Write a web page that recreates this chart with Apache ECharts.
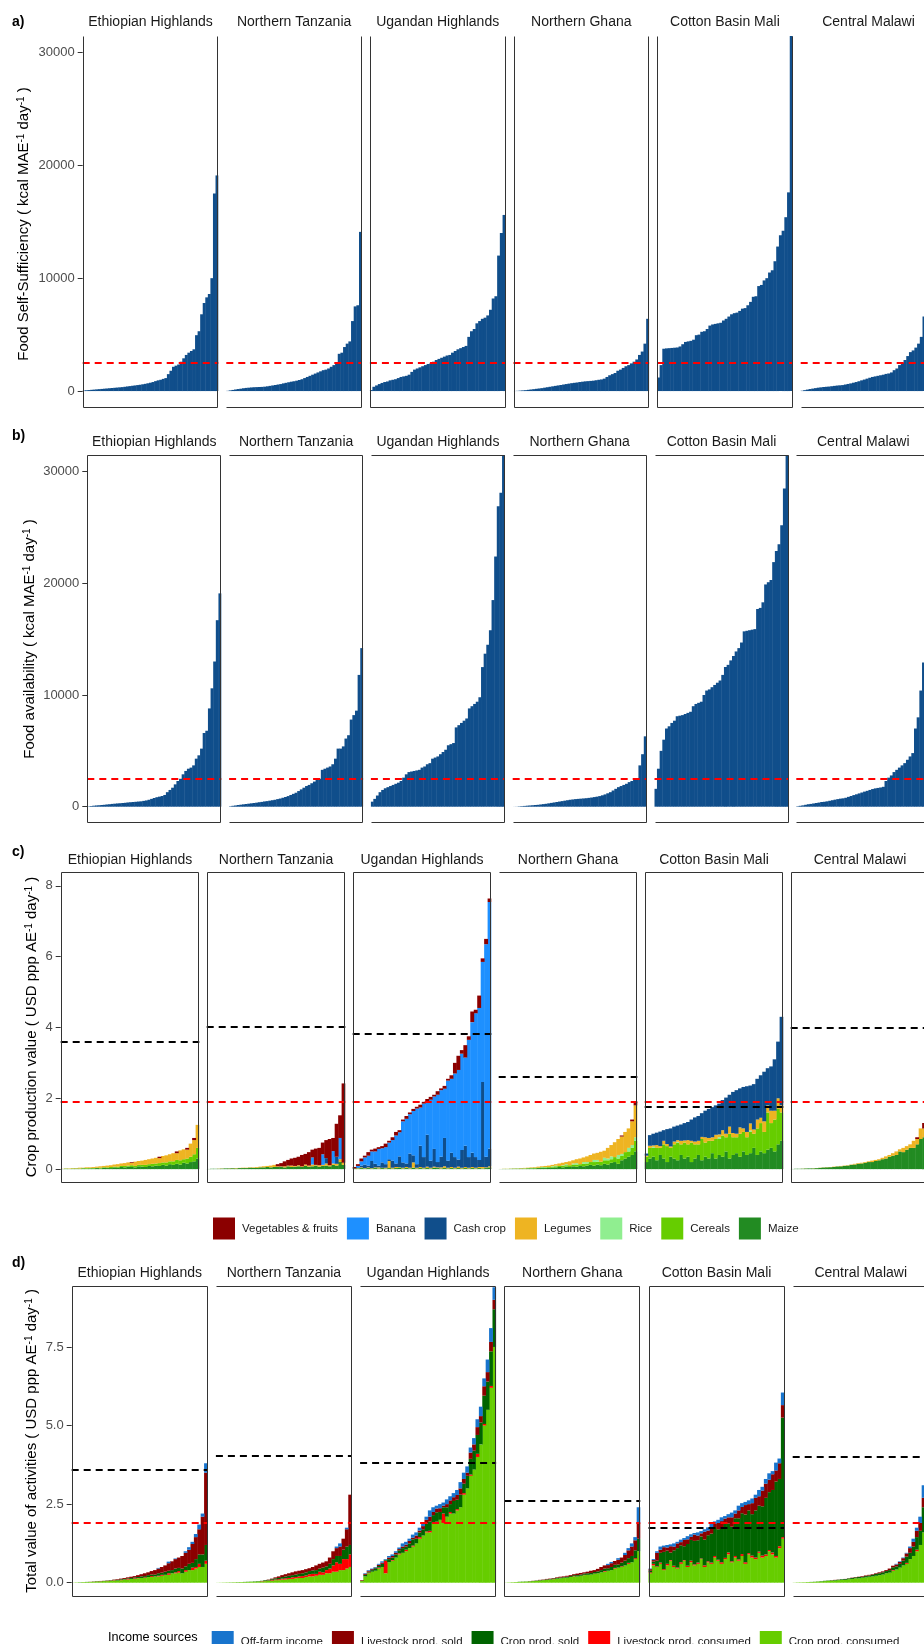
<!DOCTYPE html>
<html>
<head>
<meta charset="utf-8">
<script src="https://cdn.jsdelivr.net/npm/echarts@6/dist/echarts.min.js"></script>
<style>
  html, body { margin: 0; padding: 0; background: #fff; }
  #chart { width: 924px; height: 1644px; }
</style>
</head>
<body>
<div id="chart"></div>
<script>
// ---------------------------------------------------------------------------
// Farm-household indicators across six sites; households sorted per site.
// ---------------------------------------------------------------------------
const regions = ['Ethiopian Highlands', 'Northern Tanzania', 'Ugandan Highlands',
                 'Northern Ghana', 'Cotton Basin Mali', 'Central Malawi'];

// reference lines
const kcalRequirement = 2500;                         // kcal MAE-1 day-1
const povertyLine = 1.9;                              // USD ppp AE-1 day-1
const livingIncome = [3.6, 4.03, 3.82, 2.62, 1.75, 4.0]; // per site

// a) food self-sufficiency (kcal MAE-1 day-1)
const selfSuffEth = [50,70,90,110,130,150,170,190,210,230,250,270,290,310,330,350,380,410,440,
  470,500,530,560,600,640,690,740,800,880,950,1000,1080,1150,1500,1800,2150,
  2250,2350,2600,2900,3200,3400,3550,3700,4950,5300,6800,7800,8300,8600,10000,17500,19100];
const selfSuffTan = [20,60,100,140,180,210,250,280,300,320,340,350,360,370,390,
  420,460,500,540,580,620,680,730,780,830,870,920,980,1050,1150,1250,1350,
  1450,1550,1650,1750,1850,1900,2000,2150,2300,2450,3300,3400,3900,4200,4400,6200,7500,7600,14100];
const selfSuffUga = [90,380,500,620,720,800,850,950,1000,1050,1150,1250,1300,1350,
  1450,1700,1900,2000,2100,2200,2300,2400,2450,2600,2750,2850,2950,3050,3150,3200,
  3400,3550,3700,3800,3900,4000,4800,5300,5500,6000,6200,6400,6500,6700,7200,8200,8400,12000,14000,15600];
const selfSuffGha = [10,20,40,60,80,110,140,170,200,230,260,300,340,380,420,
  460,500,540,580,620,660,700,730,760,800,830,860,880,900,920,
  960,1000,1030,1100,1250,1400,1500,1600,1800,1900,2050,2200,2300,2450,2600,2800,3200,3500,4200,6400];
const selfSuffCot = [1200,2300,3750,3780,3800,3820,3840,3860,3950,4150,4350,4400,4450,4550,
  4950,5000,5250,5300,5500,5800,5900,5950,6000,6050,6250,6400,6600,6800,6900,6950,
  7100,7300,7350,7600,7900,8350,8400,9300,9400,9800,10000,10500,10700,11500,
  12800,13800,14200,15400,17600,31500];
const selfSuffMal = [30,80,130,180,220,260,300,330,360,380,400,430,460,490,510,530,
  580,630,680,740,800,870,950,1020,1100,1180,1250,1300,1350,1400,1450,1520,
  1560,1650,1850,2000,2300,2500,2750,3100,3450,3600,3850,4200,4800,6600,7000,8000,9500,12000];
const selfSufficiency = [selfSuffEth, selfSuffTan, selfSuffUga, selfSuffGha, selfSuffCot, selfSuffMal];

// b) food availability (kcal MAE-1 day-1)
const availEth = [30,60,90,110,130,150,170,200,220,250,270,290,310,330,350,380,400,420,440,460,
  480,520,560,620,700,780,850,900,960,1050,1300,1500,1700,2000,2300,2500,2900,3200,3400,
  3500,3700,4300,4600,5200,6600,6800,8800,10600,13000,16700,19100];
const availTan = [40,80,110,150,180,210,240,270,300,330,360,400,430,470,500,540,580,620,680,730,
  800,870,950,1050,1150,1250,1400,1550,1700,1850,1950,2100,2250,2400,2500,3300,3400,3500,
  3600,3800,4300,5200,5200,5400,6100,6400,7800,8200,8600,11800,14200];
const availUga = [450,700,1000,1300,1500,1650,1750,1850,1950,2050,2150,2300,2600,2900,3100,
  3150,3200,3250,3300,3500,3600,3800,3900,4300,4400,4500,4700,4900,5100,5500,5600,5700,
  7100,7300,7500,7700,7900,8800,9000,9200,9400,9800,12500,13700,14500,15800,18500,22400,26900,28100,31500];
const availGha = [5,10,30,50,70,90,110,130,150,170,200,230,260,300,340,380,420,460,500,540,580,620,
  650,680,700,720,740,760,790,820,860,900,950,1020,1100,1200,1300,1450,1600,1750,
  1850,1950,2050,2200,2300,2400,2500,3700,4700,6300];
const availCot = [1600,3400,5000,6000,7000,7200,7500,7700,8100,8150,8200,8300,8400,8500,
  9000,9200,9300,9400,10000,10400,10500,10700,10900,11100,11300,11800,12500,12700,13100,
  13500,13900,14200,14700,15700,15750,15800,15850,15900,17700,17800,18300,19900,20100,20300,
  21900,22900,23500,25200,28500,31500];
const availMal = [40,80,120,170,220,250,290,330,370,420,440,480,530,580,630,680,720,750,800,880,
  960,1040,1110,1190,1270,1350,1420,1500,1580,1640,1680,1720,1780,2300,2600,2800,3100,
  3300,3500,3700,3900,4200,4500,4800,7000,8000,10400,12900,14000,15000];
const availability = [availEth, availTan, availUga, availGha, availCot, availMal];

// c) crop production value by crop group (USD ppp AE-1 day-1)
const cropEth = {
  maize:   [0.005,0.01,0.005,0.01,0.015,0.01,0.02,0.01,0.02,0.02, 0.03,0.02,0.04,0.03,0.03,0.05,0.04,0.06,0.05,0.07,
            0.06,0.05,0.08,0.07,0.06,0.09,0.08,0.1,0.09,0.12, 0.1,0.14,0.12,0.15,0.13,0.18,0.16,0.2,0.22,0.3],
  cereals: [0,0.005,0.005,0.01,0.005,0.01,0.01,0.02,0.01,0.015, 0.01,0.02,0.015,0.02,0.03,0.02,0.03,0.03,0.04,0.03,
            0.05,0.04,0.04,0.05,0.06,0.05,0.07,0.06,0.08,0.07, 0.09,0.08,0.1,0.11,0.12,0.1,0.14,0.15,0.2,0.3],
  legumes: [0.005,0.005,0.01,0.01,0.01,0.02,0.01,0.02,0.02,0.025, 0.03,0.04,0.035,0.05,0.05,0.06,0.07,0.07,0.08,0.09,
            0.07,0.12,0.11,0.12,0.14,0.14,0.15,0.16,0.14,0.18, 0.2,0.2,0.23,0.19,0.28,0.28,0.25,0.37,0.4,0.65],
  veg:     [0,0,0,0,0,0,0,0,0,0, 0,0,0,0,0,0,0,0,0,0,
            0.02,0,0,0,0,0,0,0,0.04,0, 0,0,0,0.05,0,0,0.05,0,0.06,0]
};
const cropTan = {
  maize:   [0.005,0.01,0.01,0.01,0.015,0.02,0.02,0.025,0.02,0.03, 0.03,0.03,0.04,0.035,0.04,0.05,0.05,0.06,0.05,0.06,
            0.06,0.07,0.05,0.08,0.06,0.07,0.08,0.06,0.09,0.07, 0.08,0.1,0.07,0.09,0.1,0.08,0.12,0.1,0.2,0.12],
  legumes: [0,0,0,0.005,0.005,0,0.005,0.005,0.01,0.005, 0.01,0.01,0.01,0.015,0.02,0.02,0.03,0.03,0.05,0.06,
            0.02,0.01,0.03,0.02,0.04,0.02,0.03,0.02,0.04,0.03, 0.05,0.02,0.04,0.03,0.06,0.03,0.04,0.05,0.08,0.06],
  cash:    [0,0,0,0,0,0,0,0,0,0, 0,0,0,0,0,0,0,0,0,0,
            0,0,0,0,0,0,0,0,0,0, 0,0,0,0,0.15,0,0,0.2,0,0],
  banana:  [0,0,0,0,0,0,0,0,0,0, 0,0,0,0,0,0,0,0,0,0,
            0,0,0,0,0,0,0,0,0,0, 0.2,0,0,0.3,0,0,0.35,0,0.6,0],
  veg:     [0,0,0,0,0,0,0,0,0,0, 0,0,0,0,0,0,0,0,0,0,
            0.06,0.09,0.14,0.16,0.2,0.23,0.24,0.32,0.3,0.38, 0.22,0.46,0.49,0.33,0.51,0.74,0.37,0.93,0.64,2.24]
};
const cropUga = {
  maize:   [0.02,0.02,0.03,0.02,0.03,0.02,0.03,0.02,0.03,0.02, 0.03,0.02,0.03,0.05,0.02,0.03,0.02,0.04,0.02,0.03,
            0.02,0.03,0.02,0.04,0.03,0.02,0.03,0.02,0.03,0.02, 0.03,0.02,0.03,0.02,0.03,0.02,0.03,0.02,0.03,0.05],
  legumes: [0,0.01,0.02,0.01,0.02,0.01,0.02,0.03,0.01,0.02, 0.2,0.02,0.03,0.01,0.02,0.03,0.02,0.15,0.02,0.03,
            0.02,0.04,0.02,0.03,0.02,0.03,0.05,0.02,0.03,0.02, 0.04,0.02,0.03,0.02,0.03,0.02,0.03,0.04,0.02,0.03],
  cash:    [0,0,0.05,0.1,0.05,0.2,0.1,0.05,0.15,0.1, 0.05,0.2,0.1,0.3,0.15,0.1,0.4,0.2,0.1,0.6,
            0.3,0.9,0.2,0.5,0.15,0.3,0.8,0.2,0.4,0.3, 0.2,0.5,0.6,0.3,0.4,0.3,0.2,2.4,0.3,0.5],
  banana:  [0,0.06,0.12,0.2,0.28,0.27,0.35,0.47,0.4,0.48, 0.47,0.58,0.79,0.68,1.16,1.26,1.11,1.25,1.57,1.08,
            1.51,0.95,1.72,1.48,1.9,1.88,1.39,2.26,2.09,2.36, 2.53,2.72,2.49,3.31,3.69,4.06,4.29,3.39,6.0,6.96],
  veg:     [0.04,0.05,0.08,0.05,0.1,0.05,0.08,0.05,0.06,0.1, 0.05,0.08,0.1,0.06,0.05,0.08,0.05,0.06,0.05,0.08,
            0.05,0.06,0.08,0.05,0.1,0.05,0.08,0.05,0.1,0.3, 0.4,0.1,0.35,0.1,0.3,0.1,0.35,0.1,0.15,0.1]
};
const cropGha = {
  maize:   [0.003,0.005,0.004,0.008,0.01,0.01,0.015,0.01,0.02,0.02, 0.02,0.03,0.03,0.03,0.04,0.04,0.05,0.06,0.05,0.07,
            0.06,0.08,0.07,0.09,0.08,0.1,0.12,0.1,0.13,0.11, 0.15,0.13,0.18,0.2,0.15,0.25,0.3,0.35,0.4,0.5],
  cereals: [0,0.002,0.003,0.003,0.005,0.005,0.005,0.01,0.01,0.01, 0.015,0.01,0.02,0.02,0.02,0.03,0.03,0.03,0.04,0.04,
            0.05,0.05,0.06,0.05,0.07,0.06,0.08,0.1,0.08,0.1, 0.1,0.12,0.1,0.14,0.15,0.12,0.18,0.15,0.2,0.3],
  rice:    [0,0,0,0,0,0.005,0,0.005,0,0.005, 0.01,0,0.01,0.01,0,0.015,0.02,0,0.02,0.03,
            0,0.03,0.04,0,0.05,0.04,0,0.06,0.05,0, 0.07,0.05,0.08,0,0.1,0.06,0,0.1,0.08,0.1],
  legumes: [0.002,0.003,0.003,0.004,0.005,0.005,0.01,0.01,0.01,0.015, 0.015,0.03,0.02,0.03,0.04,0.035,0.04,0.07,0.07,0.06,
            0.11,0.09,0.11,0.16,0.13,0.16,0.2,0.18,0.2,0.28, 0.2,0.3,0.32,0.42,0.45,0.49,0.57,0.55,0.67,0.9],
  veg:     [0,0,0,0,0,0,0,0,0,0, 0,0,0,0,0,0,0,0,0,0,
            0,0,0,0,0,0,0,0,0,0, 0,0,0,0,0,0.03,0,0,0.05,0.1]
};
const cropCot = {
  maize:   [0.2,0.3,0.35,0.25,0.4,0.3,0.2,0.35,0.3,0.25, 0.4,0.3,0.35,0.2,0.3,0.4,0.25,0.35,0.3,0.45,
            0.3,0.4,0.35,0.5,0.3,0.4,0.45,0.35,0.5,0.4, 0.45,0.6,0.4,0.5,0.45,0.55,0.6,0.5,0.7,0.8],
  cereals: [0.15,0.3,0.25,0.35,0.2,0.4,0.45,0.25,0.4,0.5, 0.3,0.45,0.35,0.55,0.4,0.3,0.6,0.4,0.5,0.35,
            0.55,0.45,0.6,0.4,0.7,0.5,0.45,0.65,0.55,0.5, 0.6,0.4,0.75,0.8,0.6,1.05,0.7,0.9,1.0,0.8],
  rice:    [0,0,0.03,0,0,0,0,0,0,0.02, 0,0,0,0,0,0,0,0,0,0,
            0,0.05,0,0,0,0,0,0,0,0, 0.04,0,0,0,0,0,0,0,0,0],
  legumes: [0.03,0.06,0.04,0.08,0.05,0.1,0.06,0.04,0.08,0.05, 0.1,0.06,0.12,0.05,0.08,0.1,0.06,0.15,0.08,0.1,
            0.12,0.08,0.15,0.1,0.2,0.12,0.1,0.18,0.1,0.15, 0.2,0.12,0.25,0.15,0.3,0.2,0.35,0.25,0.3,0.2],
  cash:    [0.06,0.3,0.33,0.35,0.41,0.3,0.42,0.51,0.42,0.41, 0.46,0.49,0.51,0.6,0.68,0.7,0.67,0.75,0.82,0.85,
            0.83,0.87,0.85,1.02,0.9,1.16,1.23,1.1,1.17,1.29, 1.07,1.28,1.15,1.2,1.4,1.05,1.25,1.45,1.6,2.5]
};
const cropMal = {
  maize:   [0.005,0.01,0.01,0.012,0.018,0.02,0.02,0.028,0.035,0.045, 0.05,0.055,0.06,0.075,0.08,0.09,0.1,0.12,0.13,0.15,
            0.16,0.18,0.2,0.2,0.23,0.25,0.28,0.3,0.35,0.38, 0.4,0.5,0.48,0.55,0.6,0.6,0.7,0.85,0.9,1.1],
  legumes: [0,0,0,0.003,0.002,0,0.005,0.002,0.005,0.005, 0.005,0.005,0.01,0.005,0.01,0.01,0.01,0.01,0.02,0.02,
            0.02,0.02,0.02,0.04,0.03,0.03,0.04,0.06,0.05,0.07, 0.1,0.06,0.12,0.1,0.1,0.2,0.15,0.3,0.25,0.4],
  veg:     [0,0,0,0,0,0,0,0,0,0, 0,0,0,0,0,0,0,0,0,0,
            0,0,0,0,0,0,0,0,0,0, 0,0,0,0,0,0,0.05,0,0.15,0.1]
};
const cropValue = [cropEth, cropTan, cropUga, cropGha, cropCot, cropMal];

// d) total value of activities by income source (USD ppp AE-1 day-1)
const incEth = {
  cropCons: [0.005,0.01,0.01,0.02,0.02,0.025,0.03,0.04,0.04,0.05, 0.05,0.06,0.07,0.07,0.08,0.1,0.1,0.12,0.12,0.14,
             0.15,0.15,0.18,0.18,0.2,0.2,0.22,0.25,0.25,0.3, 0.3,0.32,0.3,0.35,0.4,0.4,0.45,0.5,0.5,0.6],
  livCons:  [0,0,0,0,0,0,0,0,0.005,0, 0.005,0,0.01,0,0.01,0,0.02,0,0.02,0.01,
             0,0.02,0,0.03,0,0.02,0.03,0,0.05,0, 0.03,0.05,0,0.05,0,0.08,0.05,0.1,0,0.1],
  cropSold: [0,0,0.005,0,0.005,0,0.005,0.005,0.005,0.005, 0.01,0.01,0.01,0.02,0.02,0.02,0.02,0.03,0.03,0.03,
             0.05,0.04,0.06,0.05,0.06,0.08,0.07,0.1,0.08,0.1, 0.12,0.1,0.15,0.12,0.2,0.15,0.25,0.3,0.4,0.5],
  livSold:  [0,0,0,0,0,0.005,0.005,0.005,0.005,0.005, 0.005,0.01,0.01,0.02,0.02,0.03,0.03,0.04,0.04,0.06,
             0.07,0.09,0.09,0.11,0.14,0.15,0.18,0.2,0.24,0.28, 0.3,0.33,0.4,0.43,0.45,0.6,0.7,0.8,1.2,2.3],
  offFarm:  [0,0,0,0,0,0,0,0,0,0, 0,0,0,0,0,0,0,0,0,0,
             0,0,0,0,0,0.02,0,0,0.05,0, 0.02,0,0,0.05,0.08,0.07,0.1,0.15,0.1,0.3]
};
const incTan = {
  cropCons: [0.003,0.005,0.008,0.01,0.01,0.015,0.015,0.02,0.02,0.025, 0.03,0.03,0.04,0.04,0.05,0.06,0.06,0.08,0.08,0.1,
             0.1,0.12,0.12,0.14,0.15,0.15,0.18,0.2,0.2,0.22, 0.25,0.25,0.3,0.3,0.35,0.35,0.4,0.4,0.45,0.5],
  livCons:  [0,0,0,0,0,0,0,0,0,0, 0,0,0,0.01,0.01,0.01,0.02,0.02,0.03,0.03,
             0.04,0.03,0.05,0.04,0.05,0.06,0.05,0.07,0.08,0.06, 0.1,0.08,0.1,0.15,0.2,0.3,0.2,0.35,0.3,0.4],
  cropSold: [0,0,0,0,0.002,0,0.003,0,0.005,0.005, 0.005,0.01,0.01,0.01,0.02,0.02,0.03,0.04,0.04,0.05,
             0.06,0.07,0.07,0.08,0.08,0.09,0.1,0.1,0.11,0.12, 0.1,0.15,0.12,0.15,0.2,0.2,0.25,0.3,0.4,0.3],
  livSold:  [0,0,0,0,0,0,0,0,0,0, 0,0,0,0,0,0.01,0.02,0.03,0.05,0.06,
             0.07,0.08,0.09,0.1,0.1,0.1,0.1,0.09,0.11,0.15, 0.15,0.16,0.16,0.2,0.25,0.25,0.3,0.35,0.55,1.6],
  offFarm:  [0,0,0,0,0,0,0,0,0,0, 0,0,0,0,0,0,0,0,0,0,
             0,0,0,0,0,0,0,0,0,0, 0,0,0,0,0,0.05,0.1,0,0.05,0]
};
const incUga = {
  cropCons: [0.05,0.2,0.3,0.35,0.38,0.45,0.5,0.3,0.65,0.7, 0.8,0.9,0.95,1.0,1.1,1.15,1.25,1.4,1.5,1.6,
             1.6,1.9,1.9,2.0,1.9,2.1,2.2,2.2,2.3,2.4, 2.8,3.0,3.4,3.6,4.0,4.4,5.0,5.5,6.2,7.5],
  livCons:  [0,0,0.02,0,0,0.03,0,0.4,0,0.02, 0,0.03,0,0.05,0,0.03,0,0.05,0,0.03,
             0.05,0,0.04,0,0.3,0,0.05,0,0.04,0, 0.05,0,0.04,0,0.1,0,0.05,0,0.06,0],
  cropSold: [0.01,0.05,0.03,0.05,0.08,0.05,0.1,0.03,0.1,0.08, 0.1,0.1,0.15,0.1,0.15,0.2,0.15,0.15,0.2,0.25,
             0.3,0.25,0.3,0.25,0.2,0.3,0.25,0.4,0.3,0.4, 0.3,0.4,0.5,0.6,0.6,0.7,0.9,0.9,1.1,1.2],
  livSold:  [0.02,0.03,0.03,0.03,0.02,0.04,0.04,0,0.05,0.05, 0.05,0.04,0.05,0.06,0.08,0.05,0.1,0.06,0.1,0.12,
             0.15,0.1,0.12,0.12,0.05,0.1,0.12,0.12,0.15,0.2, 0.15,0.1,0.2,0.2,0.25,0.2,0.3,0.3,0.3,0.3],
  offFarm:  [0,0.02,0.02,0.02,0.02,0.03,0.04,0.02,0.05,0.05, 0.05,0.05,0.1,0.09,0.07,0.1,0.1,0.09,0.1,0.1,
             0.2,0.15,0.09,0.13,0.1,0.15,0.13,0.13,0.16,0.2, 0.2,0.2,0.16,0.2,0.25,0.3,0.25,0.4,0.44,0.4]
};
const incGha = {
  cropCons: [0.005,0.01,0.015,0.02,0.025,0.03,0.035,0.04,0.05,0.055, 0.07,0.08,0.09,0.1,0.11,0.13,0.14,0.15,0.16,0.18,
             0.2,0.2,0.22,0.24,0.25,0.26,0.28,0.3,0.33,0.35, 0.38,0.4,0.45,0.48,0.5,0.55,0.6,0.65,0.75,1.0],
  livCons:  [0,0,0,0,0,0,0,0,0,0, 0,0,0,0,0.005,0,0,0.01,0,0,
             0.01,0,0,0.01,0,0,0.01,0,0,0.02, 0,0,0.02,0,0.02,0,0.03,0,0.03,0],
  cropSold: [0,0,0,0,0.005,0.005,0.005,0.005,0.005,0.01, 0.01,0.01,0.015,0.015,0.02,0.02,0.025,0.02,0.03,0.03,
             0.03,0.04,0.04,0.04,0.05,0.05,0.05,0.06,0.07,0.08, 0.08,0.1,0.1,0.1,0.12,0.15,0.15,0.2,0.25,0.4],
  livSold:  [0,0,0,0,0,0,0,0.005,0.005,0.005, 0.01,0.01,0.015,0.015,0.015,0.02,0.025,0.02,0.03,0.03,
             0.03,0.05,0.05,0.04,0.05,0.07,0.06,0.08,0.1,0.1, 0.1,0.12,0.12,0.15,0.16,0.18,0.25,0.3,0.32,0.5],
  offFarm:  [0,0,0,0,0,0,0,0,0,0, 0,0,0,0,0,0,0,0,0,0,
             0,0,0,0,0,0,0,0,0,0, 0.04,0.04,0,0.05,0,0.07,0.07,0.1,0.1,0.5]
};
const incCot = {
  cropCons: [0.3,0.55,0.5,0.6,0.4,0.55,0.7,0.5,0.45,0.6, 0.7,0.5,0.65,0.55,0.6,0.75,0.5,0.65,0.6,0.8,
             0.7,0.6,0.75,0.9,0.65,0.8,0.7,0.85,0.6,0.9, 0.8,0.75,0.95,0.8,0.85,1.0,0.9,0.8,1.1,1.4],
  livCons:  [0.03,0.05,0.02,0.04,0.03,0.05,0.02,0.04,0.03,0.05, 0.02,0.04,0.05,0.03,0.04,0.02,0.05,0.03,0.04,0.05,
             0.03,0.05,0.04,0.06,0.03,0.05,0.04,0.06,0.05,0.04, 0.06,0.05,0.04,0.06,0.05,0.04,0.06,0.05,0.06,0.05],
  cropSold: [0.05,0.07,0.18,0.31,0.55,0.42,0.24,0.49,0.62,0.54, 0.44,0.69,0.66,0.75,0.71,0.7,0.82,0.83,0.92,0.92,
             0.97,1.06,1.1,0.92,1.1,1.2,1.31,1.3,1.52,1.36, 1.32,1.5,1.46,1.57,1.8,1.84,1.99,2.37,2.14,3.8],
  livSold:  [0.05,0.05,0.25,0.1,0.15,0.1,0.2,0.12,0.15,0.1, 0.2,0.15,0.1,0.2,0.15,0.1,0.25,0.15,0.2,0.1,
             0.2,0.25,0.15,0.2,0.3,0.15,0.25,0.2,0.3,0.2, 0.35,0.4,0.3,0.5,0.45,0.4,0.5,0.35,0.5,0.4],
  offFarm:  [0.02,0.03,0.05,0.1,0.05,0.08,0.06,0.1,0.05,0.08, 0.06,0.1,0.08,0.05,0.1,0.07,0.08,0.1,0.12,0.08,
             0.1,0.12,0.08,0.1,0.15,0.1,0.15,0.12,0.1,0.12, 0.15,0.1,0.2,0.12,0.15,0.2,0.1,0.25,0.15,0.4]
};
const incMal = {
  cropCons: [0.005,0.01,0.012,0.015,0.02,0.02,0.025,0.035,0.04,0.05, 0.06,0.065,0.07,0.08,0.09,0.09,0.11,0.12,0.14,0.14,
             0.16,0.17,0.19,0.2,0.22,0.24,0.26,0.3,0.32,0.38, 0.42,0.48,0.55,0.6,0.75,0.85,1.0,1.2,1.6,1.8],
  livCons:  [0,0,0,0,0,0,0,0,0,0, 0,0,0,0,0,0,0,0,0,0,
             0,0,0,0,0,0,0,0,0,0.02, 0,0,0,0.03,0,0,0.05,0,0,0],
  cropSold: [0,0,0,0,0,0.005,0.005,0.005,0.01,0.01, 0.01,0.01,0.015,0.015,0.02,0.025,0.025,0.03,0.03,0.04,
             0.03,0.04,0.04,0.05,0.06,0.06,0.07,0.07,0.08,0.09, 0.1,0.12,0.15,0.2,0.2,0.3,0.4,0.45,0.8,0.9],
  livSold:  [0,0,0,0,0,0,0,0,0,0, 0,0.005,0.005,0.005,0,0.005,0.005,0.01,0.01,0.01,
             0.02,0.02,0.02,0.02,0.02,0.03,0.03,0.03,0.05,0.05, 0.06,0.06,0.08,0.1,0.15,0.15,0.2,0.25,0.3,0.3],
  offFarm:  [0,0,0,0,0,0,0,0,0,0, 0,0,0,0,0,0,0,0,0,0,
             0,0,0,0,0,0,0,0,0,0, 0.02,0.02,0.02,0.02,0.05,0.1,0.1,0.2,0.4,0.4]
};
const incomeValue = [incEth, incTan, incUga, incGha, incCot, incMal];

// stacking order, bottom to top
const cropGroups = [
  { key: 'maize',   name: 'Maize',               color: '#228B22' },
  { key: 'cereals', name: 'Cereals',             color: '#66CD00' },
  { key: 'rice',    name: 'Rice',                color: '#90EE90' },
  { key: 'legumes', name: 'Legumes',             color: '#EEB422' },
  { key: 'cash',    name: 'Cash crop',           color: '#104E8B' },
  { key: 'banana',  name: 'Banana',              color: '#1E90FF' },
  { key: 'veg',     name: 'Vegetables & fruits', color: '#8B0000' }
];
const incomeSources = [
  { key: 'cropCons', name: 'Crop prod. consumed',      color: '#66CD00' },
  { key: 'livCons',  name: 'Livestock prod. consumed', color: '#FF0000' },
  { key: 'cropSold', name: 'Crop prod. sold',          color: '#006400' },
  { key: 'livSold',  name: 'Livestock prod. sold',     color: '#8B0000' },
  { key: 'offFarm',  name: 'Off-farm income',          color: '#1874CD' }
];

// ---------------------------------------------------------------------------
// layout & styling
// ---------------------------------------------------------------------------
const FONT = '"Liberation Sans", Arial, Helvetica, sans-serif';
const BAR_BLUE = '#104E8B';
const RED = '#FF0000';
const FRAME = '#333333';

// frame sides per facet: [top, right, bottom, left]
const panelA = { top: 36, bottom: 408, left0: 82.7, step: 143.6, width: 135.6, stripY: 22.5,
  label: 'a)', labelY: 22.5, titleX: 24, titleY: 224,
  sides: [[0,1,1,1],[0,1,1,0],[0,1,1,1],[0,1,1,1],[0,1,1,1],[0,1,1,0]] };
const panelB = { top: 455, bottom: 823, left0: 87.3, step: 141.8, width: 134, stripY: 442.5,
  label: 'b)', labelY: 436, titleX: 30, titleY: 639,
  sides: [[1,1,1,1],[1,1,1,0],[1,1,1,0],[1,1,1,0],[1,1,1,0],[1,1,1,0]] };
const panelC = { top: 872.3, bottom: 1183.3, left0: 60.7, step: 146, width: 138.6, stripY: 860,
  label: 'c)', labelY: 852, titleX: 32, titleY: 1027,
  sides: [[1,1,1,1],[1,1,1,1],[1,1,1,1],[1,1,1,0],[1,1,1,1],[1,1,1,1]] };
const panelD = { top: 1286.3, bottom: 1597.3, left0: 71.7, step: 144.2, width: 136, stripY: 1273.5,
  label: 'd)', labelY: 1263, titleX: 32, titleY: 1441,
  sides: [[1,1,1,1],[1,1,1,0],[1,1,1,0],[1,1,1,1],[1,1,1,1],[1,1,1,0]] };

const grids = [], xAxes = [], yAxes = [], series = [], elements = [];

function addFacet(P, k, n, yMin, yMax, ticks, fmt) {
  const gi = grids.length;
  const left = P.left0 + k * P.step;
  grids.push({ left: left, top: P.top, width: P.width, height: P.bottom - P.top,
               containLabel: false, outerBoundsMode: 'none' });
  xAxes.push({ type: 'category', gridIndex: gi, data: Array.from({ length: n }, (_, i) => i), show: false });
  yAxes.push({
    type: 'value', gridIndex: gi, min: yMin, max: yMax, show: k === 0,
    splitLine: { show: false },
    axisLine: { show: false },
    axisTick: { show: true, customValues: ticks, length: 5, lineStyle: { color: FRAME, width: 1 } },
    axisLabel: { show: true, customValues: ticks, formatter: fmt, margin: 8,
                 color: '#4D4D4D', fontSize: 13, fontFamily: FONT }
  });
  // frame
  const x0 = Math.round(left) + 0.5, x1 = Math.round(left + P.width) - 0.5;
  const y0 = Math.round(P.top) + 0.5, y1 = Math.round(P.bottom) - 0.5;
  const s = P.sides[k];
  const seg = (a, b, c, d) => elements.push({ type: 'line', silent: true, z: 100,
    shape: { x1: a, y1: b, x2: c, y2: d }, style: { stroke: FRAME, lineWidth: 1 } });
  if (s[0]) seg(x0, y0, x1, y0);
  if (s[1]) seg(x1, y0, x1, y1);
  if (s[2]) seg(x0, y1, x1, y1);
  if (s[3]) seg(x0, y0, x0, y1);
  // strip title
  elements.push({ type: 'text', silent: true, x: left + P.width / 2, y: P.stripY,
    style: { text: regions[k], fontSize: 14, fontFamily: FONT, fill: '#1A1A1A',
             align: 'center', verticalAlign: 'middle' } });
  return gi;
}

// bars a touch wider than their slot so neighbours meet without seams
function slotWidth(P, n) { return P.width / n + 0.45; }

function refLines(lines) {
  return {
    silent: true, symbol: ['none', 'none'], label: { show: false }, animation: false,
    lineStyle: { type: [7, 5], width: 1.8, color: RED },
    data: lines.map(l => ({ yAxis: l.value, lineStyle: { color: l.color, type: [7, 5], width: 1.8 } }))
  };
}

function panelDecor(P, titleMain, unit) {
  elements.push({ type: 'text', silent: true, x: 12, y: P.labelY,
    style: { text: P.label, fontSize: 14, fontWeight: 'bold', fontFamily: FONT, fill: '#000',
             align: 'left', verticalAlign: 'middle' } });
  elements.push({ type: 'text', silent: true, x: P.titleX, y: P.titleY, rotation: Math.PI / 2,
    style: { text: titleMain + ' ( ' + unit + '{s|-1} day{s|-1} )',
             fontSize: 15, fontFamily: FONT, fill: '#000', align: 'center', verticalAlign: 'middle',
             rich: { s: { fontSize: 10, fontFamily: FONT, fill: '#000', verticalAlign: 'top', lineHeight: 10 } } } });
}

// a) food self-sufficiency
panelDecor(panelA, 'Food Self-Sufficiency', 'kcal MAE');
selfSufficiency.forEach((vals, k) => {
  const gi = addFacet(panelA, k, vals.length, -1500, 31450, [0, 10000, 20000, 30000], v => String(v));
  series.push({ type: 'bar', xAxisIndex: gi, yAxisIndex: gi, data: vals,
    barWidth: slotWidth(panelA, vals.length),
    itemStyle: { color: BAR_BLUE }, silent: true,
    markLine: refLines([{ value: kcalRequirement, color: RED }]) });
});

// b) food availability
panelDecor(panelB, 'Food availability', 'kcal MAE');
availability.forEach((vals, k) => {
  const gi = addFacet(panelB, k, vals.length, -1460, 31490, [0, 10000, 20000, 30000], v => String(v));
  series.push({ type: 'bar', xAxisIndex: gi, yAxisIndex: gi, data: vals,
    barWidth: slotWidth(panelB, vals.length),
    itemStyle: { color: BAR_BLUE }, silent: true,
    markLine: refLines([{ value: kcalRequirement, color: RED }]) });
});

// stacked facets for c) and d)
function stackedFacet(P, k, facet, groups, yMin, yMax, ticks, fmt) {
  const present = groups.filter(g => facet[g.key]);
  const n = facet[present[0].key].length;
  const gi = addFacet(P, k, n, yMin, yMax, ticks, fmt);
  present.forEach((g, j) => {
    const s = { type: 'bar', name: g.name, stack: 'st' + gi, xAxisIndex: gi, yAxisIndex: gi,
      data: facet[g.key], barWidth: slotWidth(P, n), itemStyle: { color: g.color }, silent: true };
    if (j === present.length - 1) {
      s.markLine = refLines([{ value: povertyLine, color: RED }, { value: livingIncome[k], color: '#000' }]);
    }
    series.push(s);
  });
}

panelDecor(panelC, 'Crop production value', 'USD ppp AE');
cropValue.forEach((f, k) => stackedFacet(panelC, k, f, cropGroups, -0.4, 8.38, [0, 2, 4, 6, 8], v => String(v)));

panelDecor(panelD, 'Total value of activities', 'USD ppp AE');
incomeValue.forEach((f, k) => stackedFacet(panelD, k, f, incomeSources, -0.465, 9.43, [0, 2.5, 5, 7.5], v => v.toFixed(1)));

// legend title for d)
elements.push({ type: 'text', silent: true, x: 108, y: 1637,
  style: { text: 'Income sources', fontSize: 12.7, fontFamily: FONT, fill: '#000',
           align: 'left', verticalAlign: 'middle' } });

const legendCommon = {
  orient: 'horizontal', icon: 'rect', itemWidth: 22, itemHeight: 22, itemGap: 9,
  selectedMode: false,
  textStyle: { fontSize: 11.5, color: '#1A1A1A', fontFamily: FONT, padding: [0, 0, 0, 2] }
};

const chart = echarts.init(document.getElementById('chart'), null, { renderer: 'canvas' });
chart.setOption({
  backgroundColor: '#FFFFFF',
  animation: false,
  grid: grids,
  xAxis: xAxes,
  yAxis: yAxes,
  series: series,
  legend: [
    Object.assign({}, legendCommon, { left: 208, top: 1212.5,
      data: cropGroups.slice().reverse().map(g => g.name) }),
    Object.assign({}, legendCommon, { left: 206.7, top: 1626,
      data: incomeSources.slice().reverse().map(g => g.name) })
  ],
  graphic: { elements: elements }
});
</script>
</body>
</html>
